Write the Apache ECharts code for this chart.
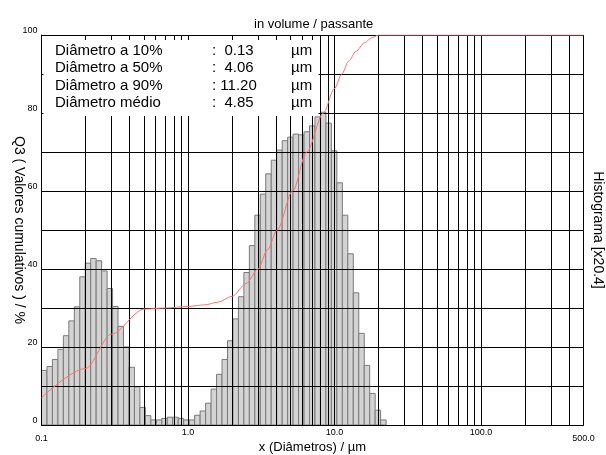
<!DOCTYPE html>
<html><head><meta charset="utf-8">
<script src="https://cdn.jsdelivr.net/npm/echarts@6/dist/echarts.min.js"></script>
<style>html,body{margin:0;padding:0;background:#fff}#c{width:606px;height:455px}</style>
</head><body><div id="c"></div>
<script>
// Size-class edges (µm), 63 classes
const binEdges = [0.1, 0.1090, 0.1187, 0.1294, 0.1410, 0.1537, 0.1675, 0.1825, 0.1989, 0.2167,
  0.2361, 0.2573, 0.2804, 0.3056, 0.3330, 0.3629, 0.3955, 0.4310, 0.4696, 0.5118,
  0.5577, 0.6078, 0.6623, 0.7218, 0.7865, 0.8571, 0.9340, 1.019, 1.110, 1.210,
  1.319, 1.437, 1.566, 1.707, 1.860, 2.027, 2.209, 2.407, 2.623, 2.858,
  3.115, 3.394, 3.699, 4.031, 4.393, 4.787, 5.216, 5.684, 6.195, 6.751,
  7.356, 8.017, 8.736, 9.520, 10.38, 11.32, 12.33, 13.44, 14.64, 15.96,
  17.39, 18.95, 20.65, 22.51];
// Histogram heights (scaled x20.4, read on the % axis)
const histValues = [14.0, 15.0, 16.8, 19.4, 22.9, 26.7, 30.3, 38.0, 41.5, 42.7,
  42.1, 39.5, 35.0, 30.4, 25.3, 20.0, 14.8, 9.8, 4.5, 2.4,
  1.3, 1.3, 1.7, 2.0, 2.0, 1.7, 1.3, 1.3, 2.5, 3.6,
  5.6, 9.2, 13.0, 16.8, 21.6, 27.2, 32.9, 39.1, 46.0, 53.8,
  59.2, 64.4, 67.9, 70.5, 72.9, 73.8, 74.6, 74.4, 75.2, 76.7,
  79.0, 80.2, 77.4, 70.3, 62.1, 53.8, 43.9, 33.9, 23.5, 15.3,
  8.1, 3.8, 1.3];
// Cumulative (Q3) curve
const cumX = [0.1, 0.2, 0.3, 0.5, 0.7, 1.0, 1.3, 1.6, 2.0, 2.5, 3.0, 3.5, 4.06, 5.18, 6.46, 8.4, 10.0, 11.2, 12.5, 14.0, 16.0, 18.0, 20.0, 500];
const cumY = [7.0, 14.5, 23.3, 29.7, 30.0, 30.4, 30.8, 31.5, 33.0, 36.3, 40.0, 45.0, 50.0, 60.0, 70.0, 80.0, 86.3, 90.0, 93.3, 95.8, 98.0, 99.3, 100, 100];
// Minor vertical grid values (log decades)
const xGridValues = [0.2, 0.3, 0.4, 0.5, 0.6, 0.7, 0.8, 0.9,
  2, 3, 4, 5, 6, 7, 8, 9, 20, 30, 40, 50, 60, 70, 80, 90, 200, 300, 400];
const statNames = ['Diâmetro a 10%', 'Diâmetro a 50%', 'Diâmetro a 90%', 'Diâmetro médio'];
const statValues = ['0.13', '4.06', '11.20', '4.85'];
const statUnit = 'µm';

const FF = '"Liberation Sans", Arial, sans-serif';
const chart = echarts.init(document.getElementById('c'), null, {renderer: 'canvas'});

const graphics = [{type: 'rect', z: 100, shape: {x: 43.5, y: 40, width: 275, height: 76}, style: {fill: '#fff'}}];
statNames.forEach((n, i) => {
  const y = 50.5 + i * 17.5;
  graphics.push({type: 'text', z: 101, x: 55, y: y, style: {text: n, fontSize: 15, fontFamily: FF, fill: '#000', verticalAlign: 'middle'}});
  const v = statValues[i];
  graphics.push({type: 'text', z: 101, x: 212, y: y, style: {text: (v.length < 5 ? ':  ' : ': ') + v, fontSize: 15, fontFamily: FF, fill: '#000', verticalAlign: 'middle'}});
  graphics.push({type: 'text', z: 101, x: 291, y: y, style: {text: statUnit, fontSize: 15, fontFamily: FF, fill: '#000', verticalAlign: 'middle'}});
});

function fmtX(v) {
  const r = Number(v.toPrecision(6));
  const s = r.toFixed(1);
  if (Math.abs(r - 0.1) < 1e-6 || Math.abs(r - 500) < 1e-6) return '{e|' + s + '}';
  return '{n|' + s + '}';
}

chart.setOption({
  animation: false,
  title: {text: 'in volume / passante', left: 254, top: 18, padding: 0,
    textStyle: {fontSize: 13, fontWeight: 'normal', color: '#000', fontFamily: FF}},
  grid: {left: 41.5, right: 22.6, top: 35, bottom: 30, containLabel: false, outerBoundsMode: 'none'},
  xAxis: {
    type: 'log', logBase: 10, min: 0.1, max: 500, z: 4,
    axisLine: {show: true, lineStyle: {color: '#000', width: 1}},
    axisTick: {show: false}, minorTick: {show: false}, minorSplitLine: {show: false},
    splitLine: {show: true, lineStyle: {color: '#000', width: 1}},
    axisLabel: {margin: 3, showMinLabel: true, showMaxLabel: true, hideOverlap: false, formatter: fmtX,
      rich: {n: {fontSize: 9, fontFamily: FF, color: '#000'},
             e: {fontSize: 9, fontFamily: FF, color: '#000', padding: [6, 0, 0, 0]}}},
    name: 'x (Diâmetros) / µm', nameLocation: 'middle', nameGap: 16, nameMoveOverlap: false,
    nameTextStyle: {fontSize: 13, color: '#000', fontFamily: FF}
  },
  yAxis: [{
    type: 'value', min: 0, max: 100, interval: 10, z: 4,
    axisLine: {show: true, lineStyle: {color: '#000', width: 1}},
    axisTick: {show: false},
    splitLine: {show: true, lineStyle: {color: '#000', width: 1}},
    axisLabel: {fontSize: 9, fontFamily: FF, color: '#000', margin: 4, verticalAlign: 'bottom',
      formatter: v => (v % 20 === 0 ? String(v) : '')},
    name: 'Q3 ( Valores cumulativos ) / %', nameLocation: 'middle', nameRotate: -90, nameGap: 16, nameMoveOverlap: false,
    nameTextStyle: {fontSize: 14, color: '#000', fontFamily: FF}
  }, {
    type: 'value', position: 'right', min: 0, max: 100,
    axisLine: {show: false}, axisTick: {show: false}, axisLabel: {show: false}, splitLine: {show: false},
    name: 'Histograma [x20.4]', nameLocation: 'middle', nameRotate: -90, nameGap: 7, nameMoveOverlap: false,
    nameTextStyle: {fontSize: 14, color: '#000', fontFamily: FF}
  }],
  series: [{
    type: 'custom', name: 'Histograma', z: 2, xAxisIndex: 0, yAxisIndex: 0,
    encode: {x: [0, 1], y: 2},
    data: histValues.map((v, i) => [binEdges[i], binEdges[i + 1], v]),
    renderItem: function (params, api) {
      const p0 = api.coord([api.value(0), api.value(2)]);
      const p1 = api.coord([api.value(1), 0]);
      return {type: 'rect', shape: {x: p0[0], y: p0[1], width: p1[0] - p0[0], height: p1[1] - p0[1]},
        style: {fill: '#d3d3d3', stroke: '#7a7a7a', lineWidth: 1}};
    },
    markLine: {silent: true, symbol: ['none', 'none'], label: {show: false}, animation: false,
      emphasis: {disabled: true},
      lineStyle: {color: '#000', width: 1, type: 'solid'},
      data: xGridValues.map(v => ({xAxis: v}))}
  }, {
    type: 'line', name: 'Q3', z: 10, showSymbol: false, symbol: 'none',
    smooth: 0.3, smoothMonotone: 'x',
    lineStyle: {color: '#ff7070', width: 1},
    data: cumX.map((x, i) => [x, cumY[i]])
  }],
  graphic: graphics
});
</script></body></html>
